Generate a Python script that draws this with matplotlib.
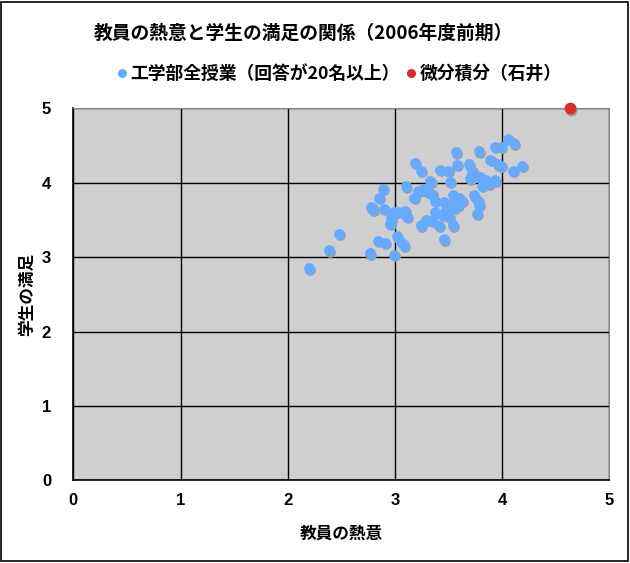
import matplotlib
matplotlib.use("Agg")
import matplotlib.pyplot as plt
import matplotlib.transforms as mtransforms
from matplotlib.lines import Line2D
from matplotlib.patches import Rectangle

plt.rcParams['font.family'] = ['Liberation Sans', 'Noto Sans CJK JP', 'DejaVu Sans']
cjk = ['Noto Sans CJK JP', 'DejaVu Sans']

# データ: 工学部全授業(回答が20名以上)
x_all = [2.20, 2.38, 2.48, 2.77, 2.84, 2.91, 2.99, 3.02, 3.06, 3.08,
         2.78, 2.79, 2.85, 2.89, 2.90, 2.95, 2.96, 2.99, 3.04, 3.09,
         3.11, 3.10, 3.19, 3.24, 3.18, 3.21, 3.26, 3.33, 3.34, 3.37,
         3.24, 3.29, 3.34, 3.37, 3.41, 3.46, 3.42, 3.49, 3.51, 3.46,
         3.48, 3.50, 3.54, 3.54, 3.57, 3.59, 3.62, 3.57, 3.58, 3.69,
         3.72, 3.70, 3.74, 3.77, 3.78, 3.76, 3.78, 3.79, 3.81, 3.85,
         3.88, 3.93, 3.89, 3.96, 3.99, 3.93, 3.99, 4.05, 4.11, 4.10,
         4.18, 3.52, 3.44, 3.60, 3.83, 3.31, 3.55]
y_all = [2.85, 3.09, 3.31, 3.05, 3.22, 3.19, 3.03, 3.28, 3.20, 3.16,
         3.68, 3.64, 3.80, 3.92, 3.65, 3.45, 3.52, 3.60, 3.61, 3.62,
         3.54, 3.95, 4.27, 4.16, 3.80, 3.89, 3.91, 4.02, 3.85, 3.76,
         3.43, 3.50, 3.49, 3.61, 3.42, 3.24, 4.17, 4.16, 4.01, 3.74,
         3.63, 3.54, 3.43, 3.83, 3.76, 3.70, 3.76, 4.41, 4.24, 4.25,
         4.16, 4.06, 3.83, 3.76, 3.70, 3.58, 4.42, 4.08, 3.96, 4.03,
         3.99, 4.03, 4.31, 4.25, 4.23, 4.48, 4.48, 4.59, 4.53, 4.16,
         4.23, 3.68, 3.57, 3.80, 4.00, 3.88, 3.66]

# データ: 微分積分(石井)
x_ishii = [4.63]
y_ishii = [5.0]

ticks = [0, 1, 2, 3, 4, 5]

blue = '#66aaff'
red = '#dd2a2a'

fig = plt.figure(figsize=(6.3, 5.63), dpi=100)
ax = fig.add_axes([0.1164, 0.1469, 0.851, 0.6607])
ax.set_facecolor('#cfcfcf')

# 影
shadow = mtransforms.offset_copy(ax.transData, fig=fig, x=0.8, y=-1.0, units='points')
ax.scatter(x_all, y_all, s=60, color='#8fa3bd', transform=shadow, linewidths=0, zorder=2, clip_on=False)
ax.scatter(x_ishii, y_ishii, s=72, color='#999999', transform=shadow, linewidths=0, zorder=2, clip_on=False)
ax.scatter(x_all, y_all, s=60, color=blue, linewidths=0, zorder=3, clip_on=False)
ax.scatter(x_ishii, y_ishii, s=72, color=red, linewidths=0, zorder=3, clip_on=False)

ax.set_xlim(0, 5)
ax.set_ylim(0, 5)
ax.set_xticks(ticks)
ax.set_yticks(ticks)
ax.grid(True, color='black', linewidth=1.0)
ax.set_axisbelow(True)
ax.tick_params(length=0, labelsize=12)
ax.tick_params(axis='y', pad=16)
ax.tick_params(axis='x', pad=9)
for lab in ax.get_xticklabels() + ax.get_yticklabels():
    lab.set_fontweight('bold')

ax.spines['left'].set_color('black')
ax.spines['bottom'].set_color('black')
ax.spines['left'].set_linewidth(1.2)
ax.spines['bottom'].set_linewidth(1.2)
ax.spines['top'].set_color('#888888')
ax.spines['right'].set_color('#888888')

ax.set_xlabel('教員の熱意', fontsize=12, fontweight='bold', family=cjk, labelpad=12)
ax.set_ylabel('学生の満足', fontsize=12, fontweight='bold', family=cjk, labelpad=4)

fig.text(0.482, 0.94, '教員の熱意と学生の満足の関係（2006年度前期）',
         ha='center', va='center', fontsize=13.5, fontweight='bold', family=cjk)

handles = [
    Line2D([], [], marker='o', linestyle='', color=blue, markersize=5.5),
    Line2D([], [], marker='o', linestyle='', color=red, markersize=5.5),
]
fig.legend(handles, ['工学部全授業（回答が20名以上）', '微分積分（石井）'],
           loc='center', bbox_to_anchor=(0.535, 0.868), ncol=2, frameon=False,
           prop={'family': cjk, 'size': 12.8, 'weight': 'bold'},
           handletextpad=0.0, columnspacing=0.1, handlelength=1.0)

# 外枠
fig.patches.append(Rectangle((0.002, 0.003), 0.995, 0.994, transform=fig.transFigure,
                             fill=False, edgecolor='black', linewidth=1.2))

fig.savefig('out.png', dpi=100)
